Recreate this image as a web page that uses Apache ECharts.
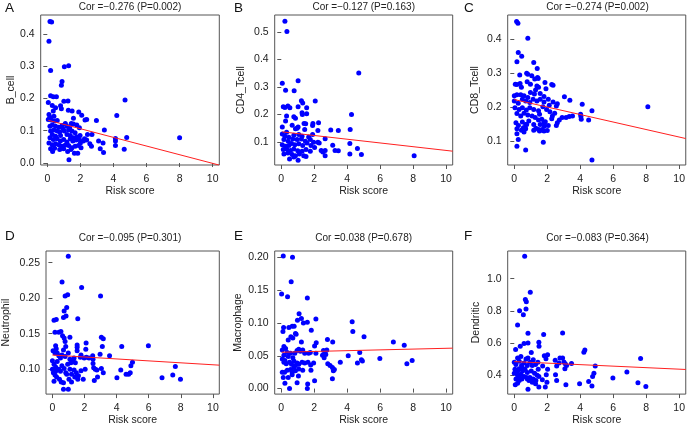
<!DOCTYPE html>
<html>
<head>
<meta charset="utf-8">
<script src="https://cdn.jsdelivr.net/npm/echarts@6/dist/echarts.min.js"></script>
<style>
  html, body { margin: 0; padding: 0; background: #fff; }
  #chart { width: 688px; height: 427px; }
</style>
</head>
<body>
<div id="chart"></div>
<script>
// panel A: B_cell vs risk score
const bCellPts = [
  [0.16,0.438],[0.26,0.436],[0.1,0.377],[0.2,0.286],[1.03,0.298],[1.29,0.301],[0.89,0.252],[0.85,0.241],
  [0.06,0.187],[0.2,0.208],[0.36,0.205],[0.55,0.205],[0.3,0.178],[0.5,0.171],[0.8,0.177],[0.85,0.168],
  [1.0,0.191],[1.25,0.192],[1.27,0.163],[1.9,0.158],[2.08,0.148],[1.5,0.161],[0.36,0.161],
  [0.1,0.15],[0.16,0.142],[0.4,0.145],[0.6,0.132],[0.24,0.133],[0.06,0.135],[0.44,0.13],
  [1.58,0.139],[1.45,0.122],[1.58,0.121],[1.78,0.118],[2.28,0.133],[2.38,0.135],[2.97,0.132],[4.2,0.147],[4.7,0.195],
  [0.16,0.114],[0.3,0.118],[0.5,0.114],[0.7,0.111],[0.9,0.116],[1.09,0.122],[1.19,0.114],[1.35,0.109],[0.95,0.106],
  [0.2,0.099],[0.4,0.102],[0.6,0.099],[0.75,0.096],[1.03,0.099],[1.29,0.102],[1.49,0.099],[1.68,0.094],[1.94,0.109],
  [1.98,0.085],[0.3,0.088],[0.5,0.083],[0.8,0.085],[1.19,0.088],[1.39,0.085],[1.58,0.078],[1.78,0.081],
  [0.16,0.078],[0.36,0.073],[0.59,0.075],[0.79,0.068],[0.99,0.073],[1.19,0.065],[1.39,0.075],[1.54,0.068],
  [1.74,0.071],[1.94,0.073],[2.18,0.068],[0.1,0.062],[0.3,0.057],[0.5,0.06],[0.7,0.057],[0.89,0.052],
  [1.09,0.056],[1.29,0.054],[1.49,0.047],[1.68,0.052],[1.88,0.054],[0.2,0.044],[0.44,0.046],[0.75,0.042],
  [0.99,0.044],[1.23,0.036],[1.43,0.042],[1.64,0.03],[2.04,0.047],[0.32,0.036],[1.84,0.03],[1.31,0.01],
  [2.43,0.088],[2.38,0.071],[2.7,0.088],[2.67,0.052],[2.57,0.06],[3.1,0.068],[3.2,0.044],[3.37,0.062],
  [3.4,0.033],[3.45,0.102],[4.12,0.076],[4.12,0.068],[4.12,0.054],[4.65,0.043],[4.8,0.079],[8.0,0.078],
  [2.25,0.075],[2.0,0.062]
];

// panel B: CD4_Tcell
const cd4Pts = [
  [0.22,0.539],[0.34,0.502],[0.06,0.314],[1.02,0.323],[0.26,0.288],[0.78,0.286],[4.7,0.351],
  [1.22,0.25],[2.06,0.249],[1.3,0.242],[0.12,0.228],[0.22,0.225],[0.4,0.231],[0.52,0.224],[1.02,0.228],[1.54,0.224],
  [1.26,0.206],[1.28,0.2],[1.54,0.203],[4.26,0.2],[0.32,0.194],[0.76,0.192],[0.86,0.186],
  [0.06,0.154],[0.26,0.176],[0.66,0.161],[0.96,0.15],[1.38,0.167],[1.48,0.166],[1.9,0.16],[2.26,0.17],
  [1.92,0.167],[1.02,0.154],[0.86,0.148],[1.42,0.145],[2.22,0.142],[3.0,0.143],[3.46,0.142],[4.18,0.145],
  [0.06,0.129],[0.32,0.135],[0.22,0.121],[0.46,0.117],[0.76,0.124],[1.06,0.127],[1.26,0.121],[1.66,0.118],
  [1.9,0.127],[0.16,0.109],[0.42,0.102],[0.7,0.111],[0.96,0.109],[1.22,0.111],[1.46,0.102],[1.76,0.109],
  [1.96,0.099],[2.22,0.099],[2.66,0.112],
  [0.06,0.09],[0.26,0.084],[0.46,0.087],[0.62,0.094],[0.82,0.09],[1.06,0.093],[1.3,0.087],[1.56,0.096],
  [1.8,0.087],[2.02,0.08],[2.3,0.096],[0.12,0.072],[0.32,0.074],[0.56,0.069],[0.76,0.074],[1.0,0.068],
  [1.26,0.066],[1.5,0.072],[1.76,0.066],[2.42,0.069],[0.16,0.056],[0.4,0.06],[0.66,0.054],[0.86,0.05],
  [1.1,0.056],[1.36,0.05],[1.5,0.047],[2.66,0.05],[0.5,0.038],[1.02,0.033],[0.76,0.045],[3.12,0.088],
  [3.26,0.069],[3.46,0.068],[4.16,0.056],[4.16,0.094],[4.62,0.076],[4.86,0.054],[8.06,0.05],[2.66,0.069],
  [2.52,0.063]
];

// panel C: CD8_Tcell
const cd8Pts = [
  [0.14,0.451],[0.22,0.446],[0.82,0.402],[0.24,0.36],[0.45,0.349],[0.16,0.333],[1.18,0.331],
  [0.75,0.299],[0.82,0.296],[0.33,0.294],[1.06,0.292],[1.39,0.313],[1.24,0.282],[1.41,0.287],[1.45,0.284],
  [1.86,0.272],[2.27,0.266],[2.35,0.264],[0.06,0.267],[0.16,0.266],[0.35,0.269],[0.43,0.258],[0.78,0.274],
  [0.98,0.267],[1.37,0.262],[1.47,0.258],[1.92,0.254],
  [0.0,0.233],[0.16,0.236],[0.39,0.236],[0.59,0.233],[0.82,0.228],[0.98,0.243],[1.22,0.238],[1.29,0.25],
  [1.57,0.24],[1.8,0.231],[0.0,0.218],[0.24,0.211],[0.49,0.223],[0.69,0.218],[0.94,0.213],[1.14,0.223],
  [1.37,0.218],[1.57,0.223],[1.8,0.215],[2.06,0.223],[3.04,0.23],[2.12,0.205],[2.35,0.215],[2.55,0.203],
  [2.61,0.21],[3.37,0.22],[4.12,0.208],[8.1,0.201],[4.71,0.189],
  [0.04,0.198],[0.29,0.193],[0.49,0.198],[0.73,0.191],[0.94,0.198],[1.18,0.193],[1.47,0.189],[1.73,0.201],
  [1.96,0.193],[2.16,0.186],[2.31,0.174],[2.45,0.182],[2.9,0.169],[3.14,0.169],[3.33,0.172],[3.53,0.174],
  [4.02,0.179],[4.04,0.172],[4.51,0.162],[4.06,0.164],
  [0.16,0.181],[0.39,0.174],[0.59,0.182],[0.82,0.177],[1.08,0.174],[1.27,0.169],[1.53,0.179],[1.67,0.164],
  [1.88,0.157],[2.27,0.166],[2.73,0.162],[2.61,0.154],
  [0.1,0.154],[0.25,0.146],[0.49,0.156],[0.69,0.149],[0.88,0.159],[1.18,0.149],[1.47,0.162],[1.57,0.149],
  [1.8,0.154],[2.06,0.146],[2.55,0.146],
  [0.16,0.136],[0.43,0.132],[0.65,0.139],[0.75,0.149],[1.31,0.138],[1.57,0.132],[1.82,0.144],[0.16,0.122],
  [0.55,0.139],[0.59,0.127],[0.69,0.136],[1.18,0.132],[1.47,0.134],[1.8,0.13],[2.0,0.131],[1.53,0.13],
  [1.69,0.134],[0.24,0.105],[0.16,0.085],[0.69,0.074],[1.76,0.097],[4.71,0.045]
];

// panel D: Neutrophil
const neutroPts = [
  [0.99,0.259],[0.6,0.223],[1.82,0.215],[0.79,0.203],[0.95,0.205],[3.0,0.203],[0.89,0.187],[0.73,0.182],
  [0.85,0.175],[0.69,0.173],[1.58,0.171],[0.1,0.169],[0.24,0.17],
  [0.16,0.152],[0.4,0.152],[0.53,0.153],[0.63,0.147],[0.73,0.144],[0.79,0.139],[1.09,0.145],[0.2,0.133],
  [0.24,0.129],[0.69,0.127],[0.83,0.132],[1.54,0.134],[1.54,0.131],[1.54,0.126],[2.1,0.137],[2.08,0.128],
  [3.05,0.145],[3.17,0.143],[3.11,0.132],[4.32,0.132],[5.98,0.133],[3.56,0.119],[2.97,0.121],
  [0.04,0.126],[0.16,0.123],[0.3,0.123],[0.4,0.119],[0.5,0.116],[0.59,0.12],[0.79,0.118],[0.99,0.123],
  [1.09,0.114],[1.29,0.113],[1.43,0.109],[1.15,0.109],[1.74,0.117],[1.98,0.116],[2.12,0.117],[1.78,0.12],
  [2.51,0.119],[2.53,0.114],[2.53,0.108],[2.57,0.102],[2.67,0.1],[2.77,0.099],[2.81,0.089],[2.61,0.084],
  [3.05,0.101],[3.17,0.095],[4.02,0.088],[4.26,0.099],[4.59,0.093],[4.75,0.093],[4.85,0.095],[4.89,0.105],
  [4.99,0.11],[6.83,0.088],[7.5,0.092],[7.66,0.104],[7.98,0.086],
  [0.0,0.112],[0.1,0.107],[0.2,0.103],[0.3,0.111],[0.4,0.1],[0.5,0.097],[0.59,0.105],[0.73,0.101],
  [0.83,0.095],[0.95,0.107],[1.09,0.1],[1.19,0.093],[1.35,0.099],[1.49,0.095],[1.62,0.091],[1.78,0.098],
  [0.06,0.095],[0.16,0.092],[0.26,0.089],[0.44,0.086],[0.55,0.082],[0.69,0.081],[0.89,0.093],[1.03,0.086],
  [1.19,0.082],[1.39,0.089],[1.58,0.086],[1.92,0.086],[0.1,0.083],[0.69,0.072],[0.99,0.072],[2.04,0.1],
  [2.28,0.116],[1.35,0.116],[0.0,0.1],[0.2,0.097]
];

// panel E: Macrophage
const macroPts = [
  [0.12,0.202],[0.68,0.2],[0.6,0.163],[0.02,0.144],[0.38,0.14],[1.58,0.138],
  [1.08,0.114],[1.22,0.107],[1.34,0.1],[1.58,0.101],[2.1,0.106],[0.98,0.104],[0.14,0.093],[0.46,0.093],
  [0.66,0.095],[0.78,0.095],[0.1,0.087],[0.58,0.079],[0.7,0.077],[0.86,0.084],[0.9,0.083],[0.42,0.074],
  [1.82,0.089],[4.3,0.102],[4.34,0.087],[5.02,0.079],[2.8,0.075],[6.8,0.071],[7.46,0.066],[3.12,0.071],
  [2.12,0.07],[1.22,0.071],[0.16,0.064],
  [0.06,0.059],[0.26,0.061],[0.36,0.055],[0.16,0.051],[0.06,0.045],[0.22,0.043],[0.42,0.049],[0.56,0.054],
  [0.7,0.047],[0.82,0.054],[0.96,0.058],[1.06,0.06],[1.16,0.057],[1.3,0.059],[1.42,0.054],[1.66,0.054],
  [1.76,0.055],[2.02,0.065],[2.1,0.054],[2.56,0.058],[2.66,0.056],[2.7,0.052],[2.5,0.051],[2.76,0.059],
  [2.6,0.047],[4.06,0.05],[4.76,0.055],[4.86,0.044],[4.92,0.042],[4.62,0.039],[3.58,0.04],[5.98,0.046],
  [7.62,0.038],[7.94,0.043],
  [0.16,0.04],[0.3,0.038],[0.5,0.04],[0.62,0.037],[0.76,0.042],[0.86,0.035],[0.96,0.039],[1.06,0.037],
  [1.26,0.04],[1.42,0.039],[1.62,0.04],[1.78,0.036],[1.96,0.039],[2.82,0.038],[2.96,0.035],[3.1,0.032],
  [3.22,0.029],[3.16,0.027],[3.1,0.015],
  [0.06,0.025],[0.2,0.025],[0.36,0.028],[0.56,0.029],[0.66,0.025],[0.76,0.032],[0.86,0.027],[1.06,0.03],
  [1.3,0.028],[1.8,0.028],[0.12,0.017],[0.42,0.017],[1.04,0.019],[0.66,0.021],[0.22,0.008],[1.6,0.007],
  [0.5,0.0],[1.58,0.0],[2.02,0.012],[0.96,0.009]
];

// panel F: Dendritic
const dendPts = [
  [0.63,1.14],[0.97,0.916],[0.67,0.87],[0.73,0.856],[0.71,0.812],[0.32,0.8],[0.55,0.776],[0.2,0.712],
  [0.83,0.66],[1.78,0.652],[2.93,0.662],
  [0.08,0.56],[0.36,0.58],[0.59,0.596],[0.83,0.6],[1.49,0.604],[1.5,0.58],[1.03,0.54],[4.22,0.542],
  [4.28,0.556],[7.66,0.504],
  [0.2,0.506],[0.4,0.516],[0.71,0.5],[0.83,0.506],[1.15,0.496],[1.82,0.52],[2.02,0.526],[1.92,0.502],
  [2.77,0.506],[2.93,0.506],[2.48,0.492],[3.01,0.482],[2.71,0.476],[2.57,0.456],[3.09,0.47],[3.17,0.46],
  [3.47,0.472],[3.07,0.44],[2.02,0.436],[1.72,0.456],[4.91,0.456],[6.83,0.42],[4.83,0.412],[4.75,0.392],
  [5.98,0.382],[4.51,0.36],[4.71,0.332],[3.96,0.346],[3.13,0.34],[1.94,0.402],[2.5,0.402],[2.57,0.366],
  [1.98,0.356],[1.88,0.326],[1.49,0.326],[1.7,0.372],[7.5,0.352],[7.98,0.33],
  [0.0,0.48],[0.1,0.466],[0.3,0.486],[0.44,0.46],[0.59,0.476],[0.79,0.46],[0.95,0.48],[1.09,0.46],
  [1.29,0.466],[1.45,0.436],[0.04,0.436],[0.2,0.426],[0.3,0.44],[0.5,0.426],[0.65,0.436],[0.79,0.416],
  [1.03,0.426],[1.23,0.412],[1.39,0.4],[0.0,0.412],[0.2,0.4],[0.4,0.406],[0.59,0.392],[0.75,0.386],
  [0.95,0.386],[1.15,0.376],[1.31,0.366],[0.1,0.376],[0.3,0.366],[0.46,0.376],[0.89,0.366],[1.09,0.356],
  [1.29,0.346],[0.06,0.34],[0.2,0.35],[0.79,0.376],[0.83,0.312],[0.51,0.442],[0.32,0.386],[1.49,0.392],
  [1.43,0.48]
];

// fitted regression lines (intercept, slope)
const fitIntercepts = [0.133, 0.137, 0.222, 0.120, 0.0554, 0.484];
const fitSlopes = [-0.0134, -0.0068, -0.011, -0.00137, 0.0006, -0.0047];

const panelLetters = ["A", "B", "C", "D", "E", "F"];
const yNames = ["B_cell", "CD4_Tcell", "CD8_Tcell", "Neutrophil", "Macrophage", "Dendritic"];
const corTexts = [
  "Cor =\u22120.276 (P=0.002)",
  "Cor =\u22120.127 (P=0.163)",
  "Cor =\u22120.274 (P=0.002)",
  "Cor =\u22120.095 (P=0.301)",
  "Cor =0.038 (P=0.678)",
  "Cor =\u22120.083 (P=0.364)"
];
const xTicks = [0, 2, 4, 6, 8, 10];
const yTicks = [
  [0.0, 0.1, 0.2, 0.3, 0.4],
  [0.1, 0.2, 0.3, 0.4, 0.5],
  [0.1, 0.2, 0.3, 0.4],
  [0.10, 0.15, 0.20, 0.25],
  [0.00, 0.05, 0.10, 0.15, 0.20],
  [0.4, 0.6, 0.8, 1.0]
];
const yDecimals = [1, 1, 1, 2, 2, 1];
const yRanges = [
  [-0.006, 0.458],
  [0.016, 0.562],
  [0.03, 0.47],
  [0.065, 0.2665],
  [-0.0084, 0.2097],
  [0.282, 1.172]
];
const allPts = [bCellPts, cd4Pts, cd8Pts, neutroPts, macroPts, dendPts];

// layout
const boxLefts = [40.7, 274.7, 507.7];
const boxWidths = [178.6, 178, 179.5];
const rowTops = [15, 251];
const rowHeights = [150, 148];
const nameGaps = [24, 28, 27, 34, 31, 26];
const XMIN = -0.4, XMAX = 10.4;
const textColor = "#222";
const font = "'Liberation Sans', Arial, sans-serif";

const chart = echarts.init(document.getElementById("chart"));

const grids = [], xAxes = [], yAxes = [], series = [], titles = [];

for (let i = 0; i < 6; i++) {
  const col = i % 3, row = Math.floor(i / 3);
  const left = boxLefts[col], top = rowTops[row];
  grids.push({
    left: left, top: top, width: boxWidths[col], height: rowHeights[row],
    show: true, borderColor: "#555", borderWidth: 1, backgroundColor: "transparent"
  });
  xAxes.push({
    gridIndex: i, type: "value", min: XMIN, max: XMAX,
    name: "Risk score", nameLocation: "middle", nameGap: 20.5,
    nameTextStyle: { color: textColor, fontSize: 10.5, fontFamily: font },
    axisLine: { show: false },
    axisTick: { show: true, inside: false, length: 4, customValues: xTicks, lineStyle: { color: "#555" } },
    axisLabel: { customValues: xTicks, color: textColor, fontSize: 10.5, fontFamily: font, margin: 9 },
    splitLine: { show: false }
  });
  const dec = yDecimals[i];
  yAxes.push({
    gridIndex: i, type: "value", min: yRanges[i][0], max: yRanges[i][1],
    name: yNames[i], nameLocation: "middle", nameGap: nameGaps[i], nameRotate: 90,
    nameTextStyle: { color: textColor, fontSize: 10.5, fontFamily: font },
    axisLine: { show: false },
    axisTick: { show: true, inside: false, length: 4, customValues: yTicks[i], lineStyle: { color: "#555" } },
    axisLabel: {
      customValues: yTicks[i], color: textColor, fontSize: 10.5, fontFamily: font, margin: 6,
      formatter: (v) => Number(v).toFixed(dec)
    },
    splitLine: { show: false }
  });
  series.push({
    type: "scatter", xAxisIndex: i, yAxisIndex: i,
    data: allPts[i], symbol: "circle", symbolSize: 5,
    itemStyle: { color: "#0000ff", opacity: 1 }, silent: true, z: 2
  });
  const xStart = Math.min(...allPts[i].map((p) => p[0]));
  const a = fitIntercepts[i], b = fitSlopes[i];
  series.push({
    type: "line", xAxisIndex: i, yAxisIndex: i,
    data: [[xStart, a + b * xStart], [XMAX, a + b * XMAX]],
    symbol: "none", lineStyle: { color: "#ff2020", width: 1 }, silent: true, z: 3
  });
  titles.push({
    text: corTexts[i], left: left + boxWidths[col] / 2, top: row === 0 ? 2 : 233.5, textAlign: "center",
    padding: 0,
    textStyle: { color: textColor, fontSize: 10, fontWeight: "normal", fontFamily: font }
  });
  titles.push({
    text: panelLetters[i], left: [5, 234, 464][col], top: row === 0 ? 1 : 229, padding: 0,
    textStyle: { color: "#111", fontSize: 13.5, fontWeight: "normal", fontFamily: font }
  });
}

chart.setOption({
  animation: false,
  backgroundColor: "#fff",
  title: titles,
  grid: grids,
  xAxis: xAxes,
  yAxis: yAxes,
  series: series
});
</script>
</body>
</html>
